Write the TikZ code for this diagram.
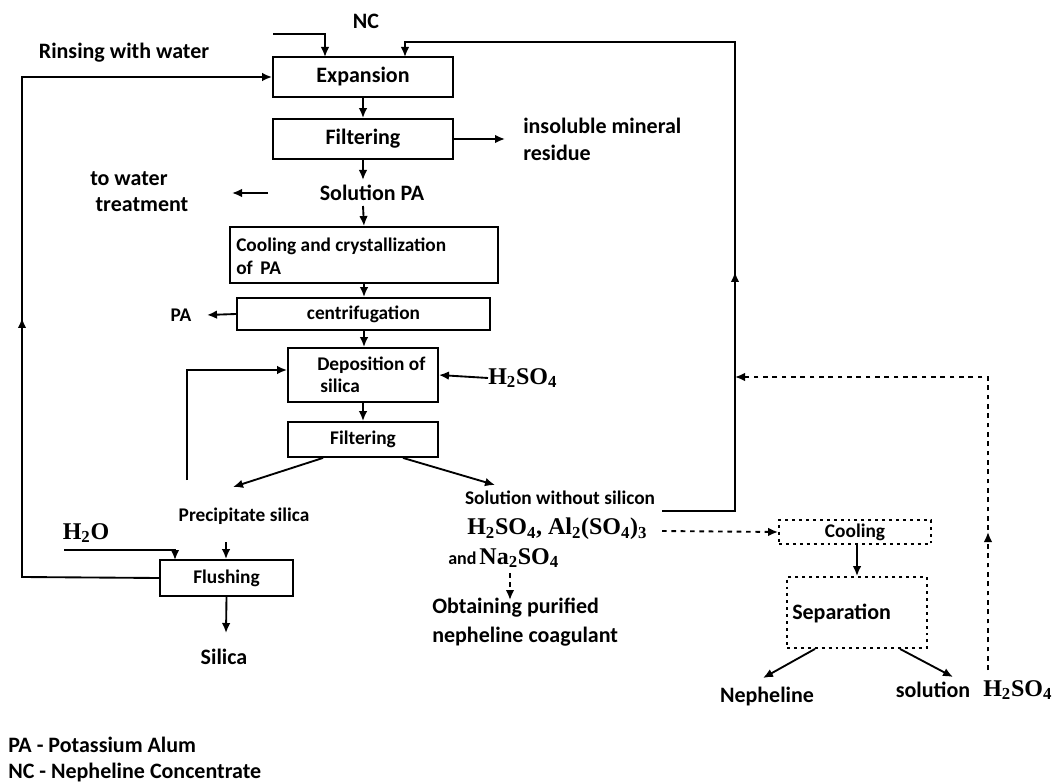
\documentclass[tikz,border=0pt]{standalone}
\usepackage{fontspec}
\setmainfont{Carlito}
\newfontfamily\chemfont{Liberation Serif}
\usetikzlibrary{arrows.meta,calc}

\tikzset{
  flow/.style={line width=1.4pt},
  arr/.style={flow,-{Latex[length=7.5pt,width=6.5pt]}},
  dflow/.style={flow,dash pattern=on 3.5pt off 3.5pt},
  darr/.style={dflow,-{Latex[length=7.5pt,width=6.5pt]}},
  box/.style={draw,line width=1.4pt,inner sep=0pt},
  dbox/.style={draw,line width=1.4pt,dash pattern=on 2.2pt off 3pt,inner sep=0pt},
  big/.style={font=\bfseries\fontsize{16.5}{20}\selectfont},
  small/.style={font=\bfseries\fontsize{14.5}{17}\selectfont},
  chem/.style={font=\chemfont\bfseries\fontsize{18}{20}\selectfont},
  txt/.style={inner sep=0pt}
}

\begin{document}
\begin{tikzpicture}[x=0.75pt,y=-0.75pt]
\useasboundingbox (0,0) rectangle (1057,784);

% process boxes
\node[box,big,minimum width=135pt,minimum height=30pt] (exp) at (363,77) {Expansion};
\node[box,big,minimum width=135pt,minimum height=30pt] (filt1) at (363,139) {Filtering};
\node[box,minimum width=201pt,minimum height=42pt] (cool) at (364,255) {};
\node[txt,small,anchor=west,align=left,font=\bfseries\fontsize{14.5}{17.25}\selectfont] (cooltxt) at (236,256) {Cooling and crystallization\\of\, PA};
\node[box,small,minimum width=189.75pt,minimum height=24pt] (centr) at (363.5,314) {centrifugation};
\node[box,minimum width=112.5pt,minimum height=40.5pt] (depo) at (363,375) {};
\node[txt,anchor=west,align=left,font=\bfseries\fontsize{14.5}{16.5}\selectfont] (depotxt) at (317,375) {Deposition of\\\,silica};
\node[box,small,minimum width=112.5pt,minimum height=26.25pt] (filt2) at (363,439.5) {Filtering};
\node[box,small,minimum width=99.75pt,minimum height=27pt] (flush) at (226.5,578) {Flushing};
\node[dbox,small,minimum width=114pt,minimum height=18pt] (coolR) at (855,532) {Cooling};
\node[dbox,minimum width=105pt,minimum height=53.25pt] (sep) at (857,612.5) {};
\node[txt,big,anchor=west] (septxt) at (792,613) {Separation};

% stream labels
\node[txt,big] (nc) at (366,21) {NC};
\node[txt,big] (rinse) at (124,53) {Rinsing with water};
\node[txt,big,anchor=west,align=left,font=\bfseries\fontsize{16.5}{20.25}\selectfont] (insol) at (523,139) {insoluble mineral\\residue};
\node[txt,big] (solpa) at (372,193) {Solution PA};
\node[txt,big,anchor=west,align=left,font=\bfseries\fontsize{16.5}{19.5}\selectfont] (towater) at (90,192) {to water\\\hspace{4pt}treatment};
\node[txt,small] (pa) at (181,315) {PA};
\node[txt,chem,anchor=west] (acid1) at (488,378) {H\textsubscript{2}SO\textsubscript{4}};
\node[txt,small] (precip) at (244,516) {Precipitate silica};
\node[txt,chem] (water) at (86,533) {H\textsubscript{2}O};
\node[txt,big] (silica) at (224,657) {Silica};
\node[txt,small] (solw) at (560,498) {Solution without silicon};
\node[txt,chem,anchor=west] (solw2) at (467,529) {H\textsubscript{2}SO\textsubscript{4}, Al\textsubscript{2}(SO\textsubscript{4})\textsubscript{3}};
\node[txt,anchor=west] (solw3) at (448,558) {\bfseries\fontsize{13.5}{16}\selectfont and\,{\chemfont\fontsize{18}{20}\selectfont Na\textsubscript{2}SO\textsubscript{4}}};
\node[txt,anchor=west,align=left,font=\bfseries\fontsize{16.5}{21.75}\selectfont] (coag) at (432,622) {Obtaining purified\\nepheline coagulant};
\node[txt,big] (neph) at (767,697) {Nepheline};
\node[txt,big] (solR) at (933,690) {solution};
\node[txt,chem,anchor=west] (acid2) at (983,690) {H\textsubscript{2}SO\textsubscript{4}};

% legend
\node[txt,anchor=west,align=left,font=\bfseries\fontsize{16.5}{19.5}\selectfont] (legend) at (8,760) {PA - Potassium Alum\\NC - Nepheline Concentrate};

% helper points
\coordinate (ncA) at (273,34);
\coordinate (ncB) at (325,57);
\coordinate (rbot) at (735,511);
\coordinate (rtop) at (735,42);
\coordinate (rmid) at (735,272);
\coordinate (rin) at (405,57);
\coordinate (solwOut) at (662,511);
\coordinate (lbot) at (22,577);
\coordinate (ltop) at (22,77);
\coordinate (lmid) at (22,318);
\coordinate (insA) at (505,139);
\coordinate (solIn) at (363,180);
\coordinate (solOut) at (363,206);
\coordinate (twA) at (268,193);
\coordinate (twB) at (232,193);
\coordinate (paTip) at (207,315);
\coordinate (fbBot) at (187,480);
\coordinate (fbTop) at (187,370);
\coordinate (precTip) at (233,487);
\coordinate (solwTip) at (495,485);
\coordinate (precOut) at (226,542);
\coordinate (h2oA) at (64,550);
\coordinate (h2oB) at (175,560);
\coordinate (silTip) at (226,633);
\coordinate (dashOut) at (662,531);
\coordinate (coagA) at (510,573);
\coordinate (coagB) at (510,600);
\coordinate (nephTip) at (763,678);
\coordinate (solRTip) at (953,677);
\coordinate (acBot) at (988,670);
\coordinate (acTop) at (988,377);
\coordinate (acMid) at (988,532);
\coordinate (acTip) at (735,377);

% main line
\draw[arr] (ncA) -| (ncB);
\draw[arr] (exp.south) -- (filt1.north);
\draw[arr] (filt1.east) -- (insA);
\draw[arr] (filt1.south) -- (solIn);
\draw[arr] (solOut) -- (cool.north);
\draw[arr] (twA) -- (twB);
\draw[arr] (cool.south) -- (cool.south |- centr.north);
\draw[arr] (centr.west) -- (paTip);
\draw[arr] (centr.south -| cool.south) -- (depo.north -| cool.south);
\draw[arr] (acid1.west) -- (depo.east);
\draw[arr] (depo.south) -- (filt2.north);
\draw[arr] (fbBot) -- (fbTop) -- ($(depo.west)+(0,-5)$);
\draw[arr] ($(filt2.south)+(-40,0)$) -- (precTip);
\draw[arr] ($(filt2.south)+(40,0)$) -- (solwTip);
\draw[arr] (precOut) -- (precOut |- flush.north);
\draw[arr] (h2oA) -| (h2oB);
\draw[arr] (flush.south) -- (silTip);

% wash water back to expansion
\draw[arr] (flush.west) -- (lbot) -- (ltop) -- (exp.west);
\draw[arr] (lbot) -- (lmid);

% solution recycled to expansion
\draw[arr] (solwOut) -- (rbot) -- (rtop) -| (rin);
\draw[arr] (rbot) -- (rmid);

% coagulant branch
\draw[darr] (dashOut) -- (coolR.west);
\draw[darr] (coagA) -- (coagB);
\draw[arr] (coolR.south -| sep.north) -- (sep.north);
\draw[arr] ($(sep.south)+(-42,0)$) -- (nephTip);
\draw[arr] ($(sep.south)+(43,0)$) -- (solRTip);
\draw[darr] (acBot) -- (acTop) -- (acTip);
\draw[darr] (acBot) -- (acMid);
\end{tikzpicture}
\end{document}
